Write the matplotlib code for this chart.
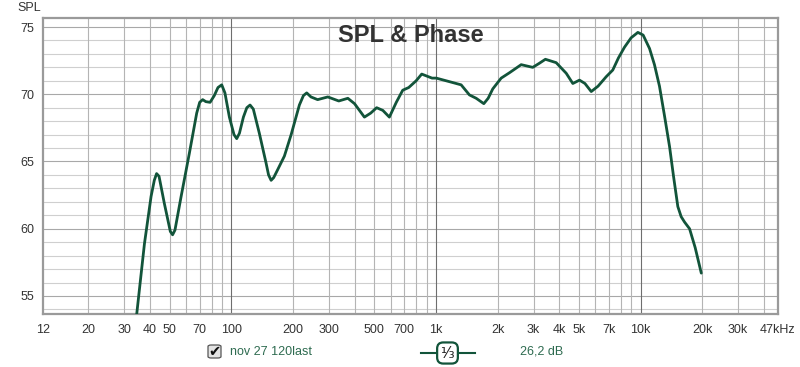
import matplotlib.pyplot as plt
from matplotlib.patches import FancyBboxPatch
from matplotlib.lines import Line2D

# curve (Hz, dB SPL)
freq = [33.0, 34.2, 37.6, 40.5, 42.0, 43.1, 44.3, 47.0, 50.3, 51.6, 53.0, 56.8,
        62.3, 67.7, 70.0, 72.4, 75.0, 78.7, 82.5, 86.0, 89.7, 93.0, 97.8, 103.0,
        106.2, 109.5, 114.5, 119.0, 123.4, 128.0, 137, 147.7, 152.0, 156.4,
        161.0, 168.5, 181.6, 196, 215, 225, 233.5, 245, 264, 296, 335, 371, 400,
        447, 480, 513, 550, 592, 640, 688, 736, 800, 852, 957, 1004, 1155, 1328,
        1458, 1573, 1714, 1800, 1896, 2084, 2288, 2610, 2973, 3200, 3428, 3870,
        4334, 4668, 5032, 5350, 5743, 6200, 6792, 7318, 7800, 8352, 9000, 9527,
        9706, 10300, 11070, 11700, 12380, 13100, 13870, 14500, 15220, 15800,
        16410, 17370, 18500, 19820]
spl = [51.9, 53.2, 58.9, 62.4, 63.6, 64.1, 63.9, 61.9, 59.8, 59.55, 59.9, 62.4,
       65.6, 68.6, 69.4, 69.6, 69.45, 69.4, 69.9, 70.5, 70.7, 70.1, 68.3, 67.0,
       66.7, 67.1, 68.3, 69.0, 69.2, 68.9, 67.1, 64.9, 64.0, 63.6,
       63.8, 64.4, 65.4, 67.0, 69.2, 69.9, 70.1, 69.8, 69.6, 69.8, 69.5, 69.7, 69.3,
       68.3, 68.6, 69.0, 68.8, 68.3, 69.4, 70.3, 70.5, 71.0, 71.5, 71.2, 71.2, 70.95, 70.7,
       69.95, 69.7, 69.3, 69.7, 70.4, 71.2, 71.6, 72.2, 72.0, 72.3, 72.6, 72.35,
       71.56, 70.8, 71.05, 70.8, 70.2, 70.6, 71.3, 71.8, 72.7, 73.5, 74.2, 74.5,
       74.6, 74.4, 73.4, 72.2, 70.6, 68.4, 66.1, 63.9, 61.65, 60.9,
       60.5, 60.0, 58.6, 56.7]

xticks = [12, 20, 30, 40, 50, 70, 100, 200, 300, 500, 700, 1000, 2000, 3000,
          4000, 5000, 7000, 10000, 20000, 30000, 47000]
xlabels = ['12', '20', '30', '40', '50', '70', '100', '200', '300', '500', '700',
           '1k', '2k', '3k', '4k', '5k', '7k', '10k', '20k', '30k', '47kHz']
yticks = [55, 60, 65, 70, 75]

plt.rcParams['font.family'] = ['Liberation Sans', 'DejaVu Sans']

fig = plt.figure(figsize=(8, 3.67), dpi=100)
ax = fig.add_axes([43 / 800, 1 - 314 / 367, 735 / 800, 296 / 367])
ax.set_xscale('log')
ax.set_xlim(12, 47000)
ax.set_ylim(53.66, 75.67)

# grid lines
for db in range(54, 76):
    ax.axhline(db, color='#a8a8a8' if db % 5 == 0 else '#cfcfcf', lw=0.8, zorder=1)
for dec in [10, 100, 1000, 10000]:
    for m in range(1, 10):
        f = dec * m
        if 12 < f < 47000:
            dark = m == 1
            ax.axvline(f, color='#6e6e6e' if dark else '#b4b4b4', lw=0.8, zorder=1)

ax.plot(freq, spl, color='#12543a', lw=2, zorder=3,
        solid_capstyle='round', solid_joinstyle='round')

ax.set_xticks(xticks)
ax.set_xticklabels(xlabels)
ax.xaxis.set_minor_locator(plt.NullLocator())
ax.set_yticks(yticks)
ax.tick_params(length=0, labelsize=9, colors='#333333')
ax.tick_params(axis='x', pad=7)
ax.tick_params(axis='y', pad=6)
for s in ax.spines.values():
    s.set_color('#9a9a9a')
    s.set_linewidth(1.6)

ax.text(0.5, 0.94, 'SPL & Phase', transform=ax.transAxes, ha='center', va='center',
        fontsize=17, fontweight='bold', color='#333333')
fig.text(17 / 800, 1 - 8 / 367, 'SPL', ha='left', va='center', fontsize=9, color='#333333')

# bottom legend row
box = FancyBboxPatch((208 / 800, 1 - 358 / 367), 13 / 800, 13 / 367,
                     boxstyle='round,pad=0,rounding_size=0.004', transform=fig.transFigure,
                     facecolor='#e4e4e4', edgecolor='#555555', lw=0.9)
fig.patches.append(box)
fig.text(214.5 / 800, 1 - 351.5 / 367, '✔', ha='center', va='center', fontsize=10.5,
         color='#111111', family='DejaVu Sans')
fig.text(230 / 800, 1 - 352 / 367, 'nov 27 120last', ha='left', va='center',
         fontsize=9, color='#2e6b50')
fig.lines.append(Line2D([421 / 800, 475 / 800], [1 - 353 / 367, 1 - 353 / 367],
                        transform=fig.transFigure, color='#12543a', lw=1.5))
fig.text(447.5 / 800, 1 - 353 / 367, '¹⁄₃', ha='center', va='center', fontsize=11,
         color='#222222', family='DejaVu Sans',
         bbox=dict(boxstyle='round,pad=0.2,rounding_size=0.4', facecolor='white',
                   edgecolor='#12543a', lw=1.6))
fig.text(520 / 800, 1 - 352 / 367, '26,2 dB', ha='left', va='center',
         fontsize=9, color='#2e6b50')

fig.savefig('out.png', dpi=100, facecolor='white')
